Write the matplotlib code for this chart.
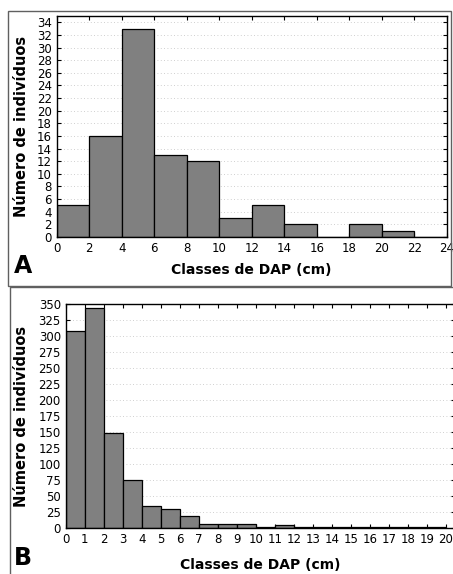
import matplotlib
matplotlib.use("Agg")
import matplotlib.pyplot as plt
from matplotlib.patches import Rectangle
import numpy as np

W, H = 453, 574

# Panel A data (2 cm classes)
a_edges = [0, 2, 4, 6, 8, 10, 12, 14, 16, 18, 20, 22]
a_counts = [5, 16, 33, 13, 12, 3, 5, 2, 0, 2, 1, 0]
a_yticks = list(range(0, 35, 2))
a_xticks = list(range(0, 25, 2))

# Panel B data (1 cm classes)
b_edges = list(range(0, 20))
b_counts = [308, 343, 149, 75, 34, 30, 19, 6, 7, 7, 1, 4, 1, 2, 1, 2, 1, 1, 1, 1]
b_yticks = list(range(0, 351, 25))
b_xticks = list(range(0, 21))

xlabel = "Classes de DAP (cm)"
ylabel = "Número de indivíduos"

fig = plt.figure(figsize=(W / 100, H / 100), dpi=100)
plt.rcParams['font.family'] = ['DejaVu Sans']


def px_axes(left, top, right, bottom):
    return fig.add_axes([left / W, 1 - bottom / H, (right - left) / W, (bottom - top) / H])


def style(ax):
    ax.tick_params(direction='in', length=3, width=0.8, labelsize=8.5, pad=3.5,
                   top=True, right=True, colors='black')
    for s in ax.spines.values():
        s.set_linewidth(1.0)
        s.set_color('black')
    ax.yaxis.grid(True, linestyle=(0, (1, 3)), color='#c0c0c0', linewidth=0.6)
    ax.set_axisbelow(True)


# Panel frames
fig.patches.append(Rectangle((8 / W, 1 - 286 / H), (451 - 8) / W, (286 - 11) / H,
                             transform=fig.transFigure, fill=False,
                             edgecolor='#606060', linewidth=1.0))
fig.patches.append(Rectangle((10 / W, 1 - 600 / H), (470 - 10) / W, (600 - 287) / H,
                             transform=fig.transFigure, fill=False,
                             edgecolor='#606060', linewidth=1.0))

# Panel A
axA = px_axes(56.7, 16, 446.7, 237)
axA.bar(a_edges, a_counts, width=2, align='edge', color='#808080',
        edgecolor='black', linewidth=0.9)
axA.set_xlim(0, 24)
axA.set_ylim(0, 35)
axA.set_xticks(a_xticks)
axA.set_yticks(a_yticks)
style(axA)
axA.set_xlabel(xlabel, fontsize=10, fontweight='bold', labelpad=6)
axA.set_ylabel(ylabel, fontsize=10.5, fontweight='bold', labelpad=6)
fig.text(14 / W, 1 - 266 / H, "A", fontsize=17, fontweight='bold', va='center', ha='left')

# Panel B
axB = px_axes(65.7, 304, 65.7 + 20.5 * 19, 528)
axB.bar(b_edges, b_counts, width=1, align='edge', color='#808080',
        edgecolor='black', linewidth=0.9)
axB.set_xlim(0, 20.5)
axB.set_ylim(0, 350)
axB.set_xticks(b_xticks)
axB.set_yticks(b_yticks)
style(axB)
axB.set_xlabel(xlabel, fontsize=10, fontweight='bold', labelpad=9)
axB.set_ylabel(ylabel, fontsize=10.5, fontweight='bold', labelpad=7)
fig.text(14 / W, 1 - 558 / H, "B", fontsize=17, fontweight='bold', va='center', ha='left')

fig.savefig("out.png", dpi=100)
